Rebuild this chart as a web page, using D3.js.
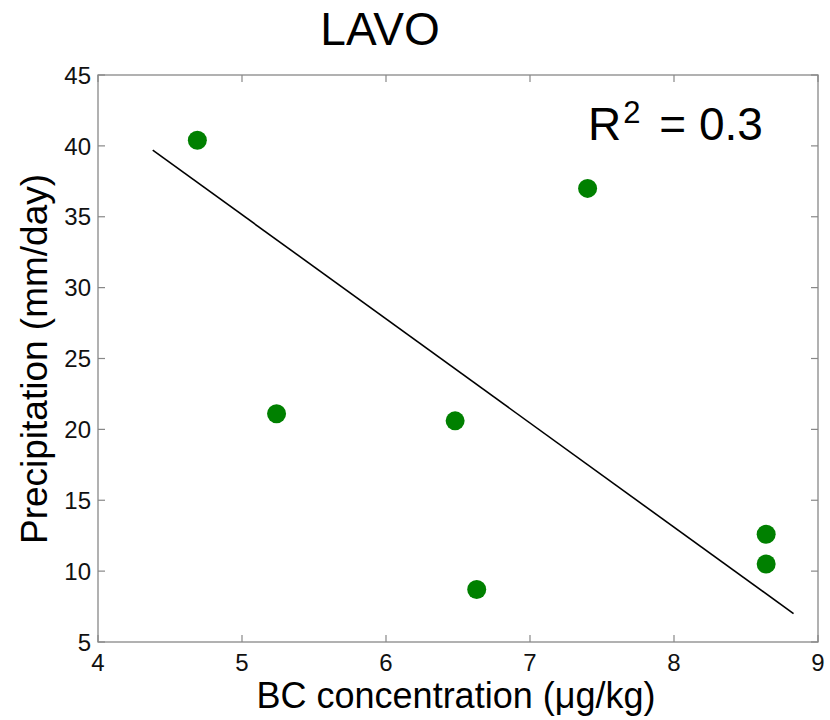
<!DOCTYPE html>
<html>
<head>
<meta charset="utf-8">
<script src="https://cdn.jsdelivr.net/npm/d3@7"></script>
<style>
  html, body { margin: 0; padding: 0; background: #fff; }
  svg { display: block; font-family: "Liberation Sans", Arial, sans-serif; }
</style>
</head>
<body>
<svg id="chart" width="830" height="720"></svg>
<script>
const title = "LAVO";
const xLabel = "BC concentration (\u03BCg/kg)";
const yLabel = "Precipitation (mm/day)";
const bcConcentration = [4.69, 7.40, 5.24, 6.48, 6.63, 8.64, 8.64];
const precipitation = [40.4, 37.0, 21.1, 20.6, 8.7, 12.6, 10.5];
const fitX = [4.38, 8.83];
const fitY = [39.7, 7.0];
const xTicks = [4, 5, 6, 7, 8, 9];
const yTicks = [5, 10, 15, 20, 25, 30, 35, 40, 45];
const rSquaredLabel = "0.3";

const svg = d3.select("#chart");
const L = 98, R = 818, T = 75, B = 642;
const x = d3.scaleLinear().domain([4, 9]).range([L, R]);
const y = d3.scaleLinear().domain([5, 45]).range([B, T]);
const axisColor = "#888";
const tickLen = 7;

// frame
svg.append("rect").attr("x", L).attr("y", T).attr("width", R - L).attr("height", B - T)
  .attr("fill", "none").attr("stroke", axisColor).attr("stroke-width", 1.3);

// ticks
const g = svg.append("g").attr("stroke", axisColor).attr("stroke-width", 1.2);
xTicks.forEach(t => {
  g.append("line").attr("x1", x(t)).attr("x2", x(t)).attr("y1", B).attr("y2", B - tickLen);
  g.append("line").attr("x1", x(t)).attr("x2", x(t)).attr("y1", T).attr("y2", T + tickLen);
});
yTicks.forEach(t => {
  g.append("line").attr("x1", L).attr("x2", L + tickLen).attr("y1", y(t)).attr("y2", y(t));
  g.append("line").attr("x1", R).attr("x2", R - tickLen).attr("y1", y(t)).attr("y2", y(t));
});

// tick labels
svg.append("g").selectAll("text").data(xTicks).join("text")
  .attr("x", d => x(d)).attr("y", 671).attr("text-anchor", "middle")
  .attr("font-size", 24).attr("fill", "#111").text(d => d);
svg.append("g").selectAll("text").data(yTicks).join("text")
  .attr("x", 91).attr("y", d => y(d)).attr("dy", "0.36em").attr("text-anchor", "end")
  .attr("font-size", 24).attr("fill", "#111").text(d => d);

// fit line
svg.append("line")
  .attr("x1", x(fitX[0])).attr("y1", y(fitY[0]))
  .attr("x2", x(fitX[1])).attr("y2", y(fitY[1]))
  .attr("stroke", "#000").attr("stroke-width", 1.6);

// points
svg.append("g").selectAll("circle").data(bcConcentration.map((v, i) => [v, precipitation[i]])).join("circle")
  .attr("cx", d => x(d[0])).attr("cy", d => y(d[1])).attr("r", 9.5)
  .attr("fill", "#008000");

// title
svg.append("text").attr("x", 380).attr("y", 45).attr("text-anchor", "middle")
  .attr("font-size", 46).attr("fill", "#000").text(title);

// R^2
const rt = svg.append("text").attr("x", 588).attr("y", 140).attr("font-size", 46).attr("fill", "#000");
rt.append("tspan").text("R");
rt.append("tspan").attr("font-size", 31).attr("dx", 2).attr("dy", -17).text("2");
rt.append("tspan").attr("dx", 6).attr("dy", 17).text(" = " + rSquaredLabel);

// axis labels
svg.append("text").attr("x", 456).attr("y", 708).attr("text-anchor", "middle")
  .attr("font-size", 36).attr("fill", "#000").text(xLabel);
svg.append("text").attr("transform", "translate(47,359) rotate(-90)").attr("text-anchor", "middle")
  .attr("font-size", 37).attr("fill", "#000").text(yLabel);
</script>
</body>
</html>
